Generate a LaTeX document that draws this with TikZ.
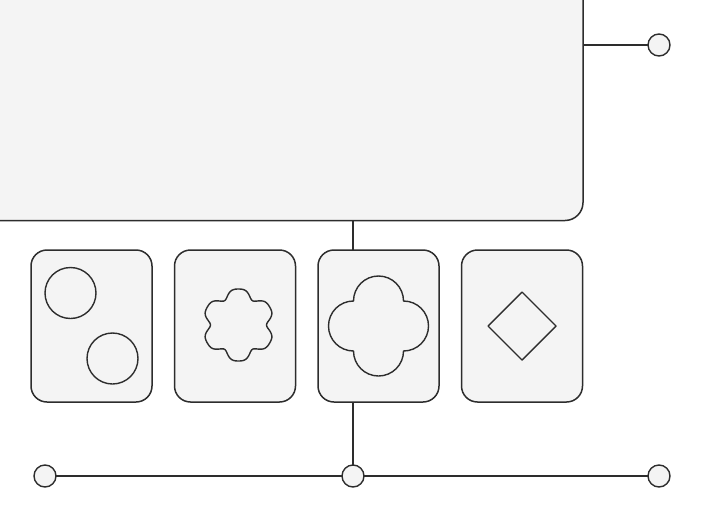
\documentclass[tikz,border=0pt]{standalone}
\usepackage{tikz}
\usepackage{xcolor}
\usetikzlibrary{positioning, calc}
\definecolor{inkgray}{RGB}{45, 45, 45}
\definecolor{papergray}{RGB}{244, 244, 244}

\tikzset{
  panel/.style={draw=inkgray, fill=papergray, line width=1.5pt, rounded corners=18pt, outer sep=0pt},
  card/.style={panel, rounded corners=16pt, minimum width=121pt, minimum height=152pt},
  port/.style={circle, draw=inkgray, fill=papergray, line width=1.4pt, minimum size=22pt, inner sep=0pt, outer sep=0pt},
  wire/.style={draw=inkgray, line width=1.4pt},
  glyph/.style={draw=inkgray, line width=1.4pt, line join=round}
}

\begin{document}
\begin{tikzpicture}[x=1pt, y=-1pt]
    \path[use as bounding box, clip] (0,0) rectangle (706,522);
    \fill[white] (0,0) rectangle (706,522);

    % main panel, cut off at the top left
    \node[panel, minimum width=608pt, minimum height=245.5pt] (main) at (279,97.75) {};

    % cards
    \foreach \i in {1,...,4} {
      \node[card] (card\i) at ({-52+143.5*\i},326) {};
    }

    % ports
    \node[port] (outR) at (659,45) {};
    \node[port] (busL) at (45,476) {};
    \node[port] (busM) at (353,476) {};
    \node[port] (busR) at (659,476) {};

    % connectors
    \draw[wire] (outR) -- (outR -| main.east);
    \draw[wire] (busM |- main.south) -- (busM |- card3.north);
    \draw[wire] (busM |- card3.south) -- (busM);
    \draw[wire] (busL) -- (busM) -- (busR);

    % glyphs inside the cards
    \draw[glyph] ($(card1.center)+(-21,-33)$) circle (25.5);
    \draw[glyph] ($(card1.center)+(21,32.5)$) circle (25.5);
    \draw[glyph, shift={($(card2.center)+(3.5,-1)$)}]
      plot[smooth cycle, samples=121, domain=0:357, variable=\t]
      ({(33-4*cos(6*\t)-cos(12*\t))*cos(\t)}, {(33-4*cos(6*\t)-cos(12*\t))*sin(\t)});
    \draw[glyph] ($(card3.center)+(-25,25)$)
      arc[start angle=180, end angle=0, radius=25]
      arc[start angle=90, end angle=-90, radius=25]
      arc[start angle=0, end angle=-180, radius=25]
      arc[start angle=-90, end angle=-270, radius=25] -- cycle;
    \draw[glyph] ($(card4.center)+(0,-34)$) -- ++(34,34) -- ++(-34,34) -- ++(-34,-34) -- cycle;
  \end{tikzpicture}
\end{document}
